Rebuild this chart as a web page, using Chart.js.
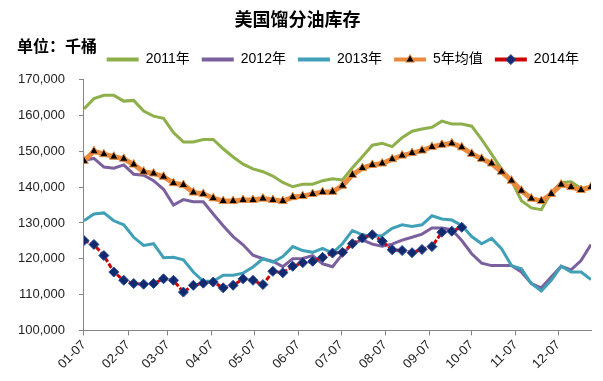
<!DOCTYPE html>
<html>
<head>
<meta charset="utf-8">
<script src="https://cdn.jsdelivr.net/npm/chart.js@4.4.1/dist/chart.umd.min.js"></script>
<style>
  body { margin: 0; background: #fff; }
  #wrap { width: 603px; height: 381px; }
</style>
</head>
<body>
<div id="wrap"><canvas id="myChart" width="603" height="381"></canvas></div>
<script>
// weekly distillate stocks, thousand barrels, first week = 01-07
const seriesNames = ['2011年', '2012年', '2013年', '5年均值', '2014年'];
const tickLabels = ['01-07', '02-07', '03-07', '04-07', '05-07', '06-07', '07-07', '08-07', '09-07', '10-07', '11-07', '12-07'];

const y2011 = [161800, 164700, 165600, 165600, 164000, 164200, 161200, 159800, 159200, 155200, 152600, 152600, 153300,
    153300, 150700, 148400, 146400, 145100, 144300, 143100, 141300, 140100, 140800, 140800, 141800, 142300,
    142000, 145400, 148500, 151700, 152200, 151300, 153800, 155600, 156200, 156700, 158400, 157600, 157600,
    157000, 153300, 149200, 145000, 141800, 136200, 134200, 133700, 138500, 141300, 141500, 139600, 140200];
const y2012 = [147500, 148000, 145600, 145300, 146200, 143600, 143300, 141800, 139400, 135000, 136500, 135900, 135900,
    132500, 129200, 126200, 123900, 121000, 120000, 119300, 117800, 120000, 120100, 120900, 118600, 117800,
    121300, 124200, 125300, 124100, 123500, 124100, 125200, 126000, 126900, 128600, 128600, 128100, 125100,
    121400, 118800, 118100, 118100, 118100, 116300, 113100, 111900, 114900, 117900, 116900, 119500, 124000];
const y2013 = [130600, 132500, 132800, 130600, 129500, 126000, 123700, 124200, 120300, 120400, 119700, 116300, 113700,
    113700, 115400, 115400, 116000, 117700, 120000, 119100, 120600, 123400, 122300, 121800, 122900, 121600,
    124200, 127900, 126700, 126200, 126500, 128500, 129500, 129000, 129500, 132000, 131100, 130800, 129300,
    126200, 124200, 125700, 122800, 118100, 117200, 113100, 111000, 114000, 117900, 116300, 116300, 114200];
const avg5 = [147300, 150000, 149200, 148500, 147900, 146300, 144300, 143800, 142900, 141100, 140600, 138500, 138100,
    136900, 136100, 136100, 136400, 136400, 136800, 136400, 136100, 137200, 137500, 138100, 138600, 138700,
    140400, 143400, 145300, 146200, 146600, 147800, 148800, 149500, 150200, 151200, 151800, 152200, 151100,
    149300, 147900, 146600, 144300, 141800, 139000, 136800, 136100, 138100, 140700, 140000, 139200, 140000];
const y2014 = [125100, 124000, 120900, 116300, 114000, 113100, 112900, 113100, 114400, 114000, 110700, 112600, 113200,
    113500, 111900, 112600, 114400, 114000, 112800, 116500, 116100, 117900, 118900, 119300, 120400, 121600,
    121800, 124200, 125800, 126700, 124900, 122500, 122300, 121700, 122600, 123400, 127400, 127700, 128800];

// day offset of a "MM-DD" label from 01-07
function dayOf(label) {
    const [m, d] = label.split('-').map(Number);
    return (Date.UTC(2014, m - 1, d) - Date.UTC(2014, 0, 7)) / 86400000;
}
const tickDays = tickLabels.map(dayOf);
const weekly = (arr) => arr.map((v, i) => ({ x: i * 7, y: v }));

Chart.defaults.font.family = '"Liberation Sans", "Noto Sans CJK SC", sans-serif';
Chart.defaults.color = '#222';

const legendMarkers = {
    id: 'legendMarkers',
    beforeLayout(chart) {
        // a little extra room under the legend row
        const lg = chart.legend;
        if (lg && !lg._patched) {
            const fit = lg.fit;
            lg.fit = function () { fit.call(this); this.height += 3; };
            lg._patched = true;
        }
    },
    afterDraw(chart) {
        const c = chart.ctx;
        // unit label left of the legend
        c.save();
        c.font = 'bold 16px "Noto Sans CJK SC", sans-serif';
        c.fillStyle = '#000';
        c.textBaseline = 'middle';
        c.fillText('单位：千桶', 17, 46);
        // markers on top of the legend lines
        const boxes = chart.legend.legendHitBoxes;
        const bw = chart.options.plugins.legend.labels.boxWidth;
        chart.legend.legendItems.forEach((item, i) => {
            const ds = chart.data.datasets[item.datasetIndex];
            if (!ds.pointRadius) return;
            const b = boxes[i];
            c.fillStyle = ds.pointBackgroundColor;
            c.strokeStyle = ds.pointBorderColor;
            c.lineWidth = 1;
            Chart.helpers.drawPoint(c, { pointStyle: ds.pointStyle, radius: ds.pointRadius, borderWidth: 1 },
                b.left + bw / 2, b.top + b.height / 2);
        });
        c.restore();
    }
};

const chartData = {
    type: 'line',
    data: {
        datasets: [
            {
                label: seriesNames[0], data: weekly(y2011),
                borderColor: '#8DB04B', backgroundColor: '#8DB04B',
                borderWidth: 3, pointRadius: 0, order: 4
            },
            {
                label: seriesNames[1], data: weekly(y2012),
                borderColor: '#7B609E', backgroundColor: '#7B609E',
                borderWidth: 3, pointRadius: 0, order: 3
            },
            {
                label: seriesNames[2], data: weekly(y2013),
                borderColor: '#3FA0B8', backgroundColor: '#3FA0B8',
                borderWidth: 3, pointRadius: 0, order: 2
            },
            {
                label: seriesNames[3], data: weekly(avg5),
                borderColor: '#EB8A3C', backgroundColor: '#EB8A3C',
                borderWidth: 5, order: 1,
                pointStyle: 'triangle', pointRadius: 5,
                pointBackgroundColor: '#000', pointBorderColor: '#EB8A3C', pointBorderWidth: 1
            },
            {
                label: seriesNames[4], data: weekly(y2014),
                borderColor: '#D00000', backgroundColor: '#D00000',
                borderWidth: 3, borderDash: [5, 2], order: 0,
                pointStyle: 'rectRot', pointRadius: 5,
                pointBackgroundColor: '#0F2A6E', pointBorderColor: '#2A4A95', pointBorderWidth: 1
            }
        ]
    },
    options: {
        responsive: false,
        animation: false,
        devicePixelRatio: 1,
        layout: { padding: { left: 4, right: 12, top: 0, bottom: 7 } },
        elements: { line: { tension: 0 } },
        plugins: {
            title: {
                display: true,
                text: '美国馏分油库存',
                color: '#000',
                font: { size: 18, weight: 'bold', family: '"Noto Sans CJK SC", sans-serif' },
                padding: { top: 8, bottom: 11 }
            },
            legend: {
                display: true,
                align: 'end',
                labels: {
                    boxWidth: 32,
                    boxHeight: 4,
                    padding: 12,
                    color: '#000',
                    font: { size: 14 },
                    generateLabels(chart) {
                        return chart.data.datasets.map((ds, i) => ({
                            text: ds.label,
                            fillStyle: ds.borderColor,
                            strokeStyle: ds.borderColor,
                            lineWidth: 0,
                            hidden: false,
                            datasetIndex: i,
                            fontColor: '#000'
                        }));
                    }
                }
            },
            tooltip: { enabled: false }
        },
        scales: {
            x: {
                type: 'linear',
                min: 0,
                max: (avg5.length - 1) * 7,
                afterBuildTicks(scale) {
                    scale.ticks = tickDays.map(d => ({ value: d }));
                },
                ticks: {
                    autoSkip: false,
                    maxRotation: 45,
                    minRotation: 45,
                    padding: 2,
                    font: { size: 13 },
                    callback: (v) => tickLabels[tickDays.indexOf(v)]
                },
                grid: { drawOnChartArea: false, drawTicks: true, tickLength: 5, color: '#868686' },
                border: { color: '#868686', width: 1 }
            },
            y: {
                min: 100000,
                max: 170000,
                ticks: {
                    stepSize: 10000,
                    padding: 14,
                    font: { size: 13 },
                    callback: (v) => v.toLocaleString('en-US')
                },
                grid: { drawOnChartArea: false, drawTicks: true, tickLength: 5, color: '#868686' },
                border: { color: '#868686', width: 1 }
            }
        }
    },
    plugins: [legendMarkers]
};

const myChart = new Chart(document.getElementById('myChart'), chartData);
</script>
</body>
</html>
